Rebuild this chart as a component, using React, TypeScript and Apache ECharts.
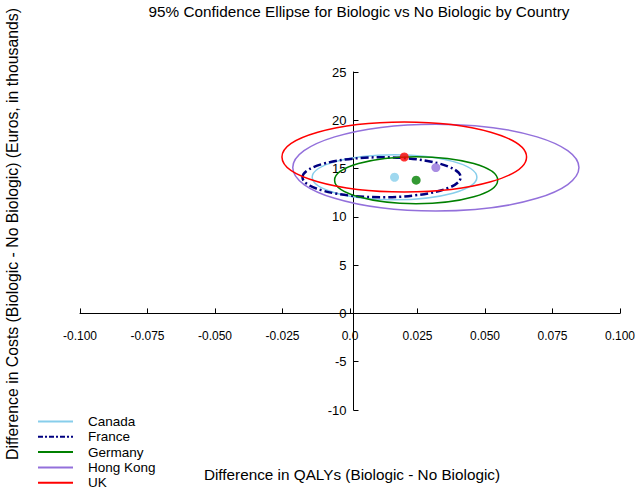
import React, { useEffect, useRef } from "react";
import * as echarts from "echarts";

const countries = ["Canada", "France", "Germany", "Hong Kong", "UK"];
const colors = ["#87CEEB", "#000080", "#008000", "#9370DB", "#FF0000"];
// ellipse centers (mean incremental QALY, mean incremental cost in thousands)
const centerQaly = [0.0165, 0.0117, 0.0245, 0.0318, 0.0201];
const centerCost = [14.1, 14.1, 13.8, 15.1, 16.2];
// semi-axes of 95% confidence ellipses
const semiQaly = [0.0305, 0.0293, 0.0302, 0.053, 0.0453];
const semiCost = [2.33, 2.07, 2.43, 4.5, 3.62];
const xTicks = { min: -0.1, max: 0.1, step: 0.025 };
const yTicks = { min: -10, max: 25, step: 5 };

const FONT = "'Liberation Sans', Arial, sans-serif";

const GRID = { left: 80, right: 11, top: 72, bottom: 80 };
const W = 638;
const H = 490;

export default function App() {
  const ref = useRef<HTMLDivElement>(null);
  useEffect(() => {
    if (!ref.current) return;
    const chart = echarts.init(ref.current, null, { renderer: "svg" });
    const plotW = W - GRID.left - GRID.right;
    const plotH = H - GRID.top - GRID.bottom;
    // shift axes so they cross at the origin (labels travel with them)
    const xOffset = -(plotH * (0 - yTicks.min)) / (yTicks.max - yTicks.min);
    const yOffset = -(plotW * (0 - xTicks.min)) / (xTicks.max - xTicks.min);

    const lineStyles = countries.map((c, i) => ({
      color: colors[i],
      width: c === "France" ? 2.5 : 1.5,
      type: c === "France" ? [8, 3, 2, 3] : "solid",
    }));
    const legendSeries = countries.map((c, i) => ({
      name: c,
      type: "line",
      data: [],
      symbol: "none",
      lineStyle: { ...lineStyles[i], width: 3, type: c === "France" ? [5, 2, 2, 2] : "solid" },
      itemStyle: { color: colors[i] },
    }));
    const ellipseSeries = {
      type: "custom",
      silent: true,
      data: countries.map((c, i) => [centerQaly[i], centerCost[i], semiQaly[i], semiCost[i], i]),
      renderItem: (params: any, api: any) => {
        const i = api.value(4);
        const c = api.coord([api.value(0), api.value(1)]);
        const s = api.size([api.value(2), api.value(3)]);
        const ls = lineStyles[i];
        return {
          type: "ellipse",
          shape: { cx: c[0], cy: c[1], rx: s[0], ry: s[1] },
          style: {
            fill: "none",
            stroke: ls.color,
            lineWidth: ls.width,
            lineDash: Array.isArray(ls.type) ? ls.type : null,
          },
        };
      },
      z: 3,
    };
    const pointSeries = countries.map((c, i) => ({
      type: "scatter",
      data: [[centerQaly[i], centerCost[i]]],
      symbol: c === "France" ? "emptyCircle" : "circle",
      symbolSize: c === "France" ? 6 : 9,
      itemStyle:
        c === "France"
          ? { color: "#fff", borderColor: colors[i], borderWidth: 2 }
          : { color: colors[i] },
      z: 4,
      silent: true,
    }));

    // one legend box per entry so the column never wraps
    const legends = countries.map((c, i) => ({
      orient: "vertical",
      left: 37,
      top: 414.5 + i * 15.3,
      padding: 0,
      itemWidth: 35,
      itemHeight: 10,
      selectedMode: false,
      data: [c],
      itemStyle: { opacity: 0 },
      textStyle: {
        fontFamily: FONT,
        fontSize: 13.5,
        color: "#000",
        padding: [0, 0, 0, 10],
      },
    }));

    chart.setOption({
      animation: false,
      backgroundColor: "#fff",
      title: {
        text: "95% Confidence Ellipse for Biologic vs No Biologic by Country",
        left: 354,
        textAlign: "center",
        top: -1,
        textStyle: { fontFamily: FONT, fontSize: 15.3, fontWeight: "normal", color: "#000" },
      },
      grid: { ...GRID, containLabel: false },
      legend: legends,
      xAxis: {
        type: "value",
        min: xTicks.min,
        max: xTicks.max,
        interval: xTicks.step,
        offset: xOffset,
        axisLine: { onZero: false, lineStyle: { color: "#000", width: 1 } },
        axisTick: { inside: true, length: 5, lineStyle: { color: "#000" } },
        splitLine: { show: false },
        axisLabel: {
          margin: 17,
          fontFamily: FONT,
          fontSize: 12,
          color: "#000",
          formatter: (v: number) => (Math.abs(v) < 1e-9 ? "0.0" : v.toFixed(3)),
        },
      },
      yAxis: {
        type: "value",
        min: yTicks.min,
        max: yTicks.max,
        interval: yTicks.step,
        offset: yOffset,
        axisLine: { onZero: false, lineStyle: { color: "#000", width: 1 } },
        axisTick: { inside: true, length: 5, lineStyle: { color: "#000" } },
        splitLine: { show: false },
        axisLabel: { margin: 7, fontFamily: FONT, fontSize: 13, color: "#000" },
      },
      graphic: [
        {
          type: "text",
          x: 352,
          y: 474,
          style: {
            text: "Difference in QALYs (Biologic - No Biologic)",
            fontFamily: FONT,
            fontSize: 15.3,
            fill: "#000",
            align: "center",
            verticalAlign: "middle",
          },
        },
        {
          type: "text",
          x: 12,
          y: 234,
          rotation: Math.PI / 2,
          style: {
            text: "Difference in Costs (Biologic - No Biologic) (Euros, in thousands)",
            fontFamily: FONT,
            fontSize: 15.8,
            fill: "#000",
            align: "center",
            verticalAlign: "middle",
          },
        },
      ],
      series: [...legendSeries, ellipseSeries, ...pointSeries],
    });
    return () => chart.dispose();
  }, []);
  return <div ref={ref} style={{ width: W, height: H, position: "absolute", left: 0, top: 0 }} />;
}
